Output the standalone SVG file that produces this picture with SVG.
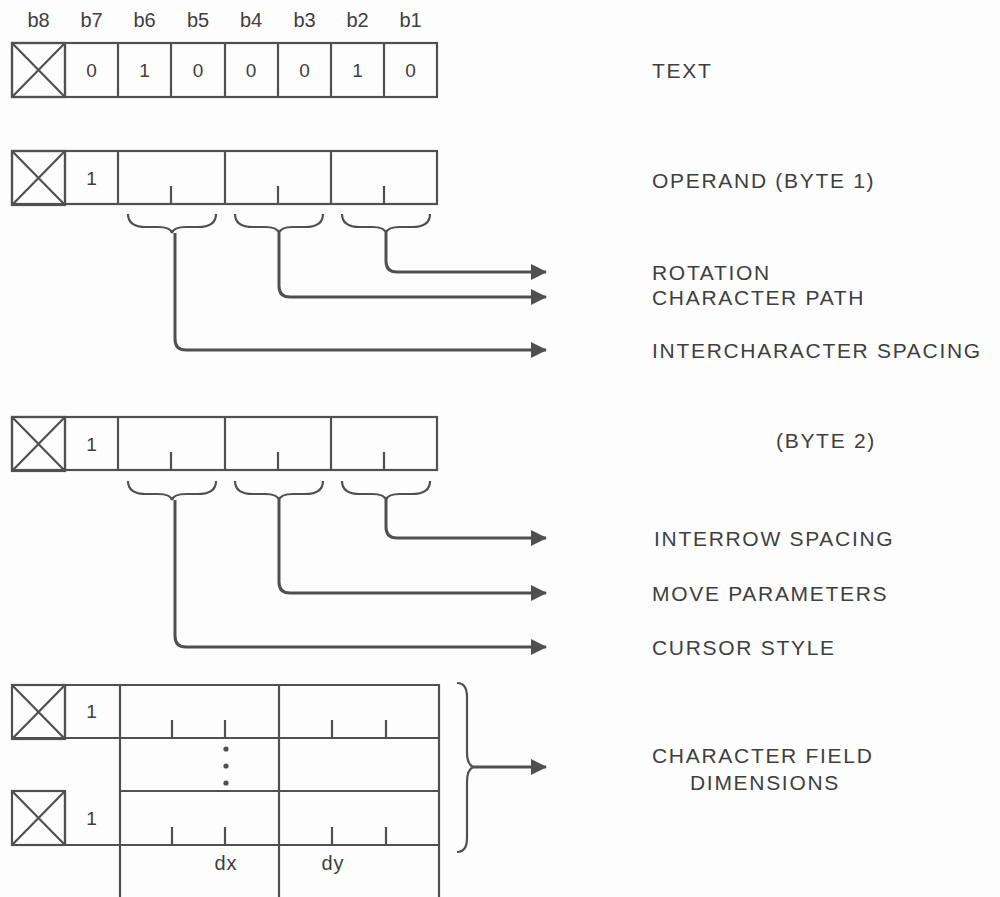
<svg xmlns="http://www.w3.org/2000/svg" width="1000" height="897" viewBox="0 0 1000 897">
<style>
.bx{fill:none;stroke:#505050;stroke-width:2.2}
.tk{stroke:#505050;stroke-width:2.2}
.br{fill:none;stroke:#505050;stroke-width:2.2}
.ar{fill:none;stroke:#505050;stroke-width:3}
.lb{font-family:"Liberation Sans",Arial,sans-serif;font-size:21px;letter-spacing:1.7px;fill:#3f3f3f}
.bt{font-family:"Liberation Sans",Arial,sans-serif;font-size:20px;fill:#3f3f3f;text-anchor:middle}
.dg{font-family:"Liberation Sans",Arial,sans-serif;font-size:19px;fill:#3f3f3f;text-anchor:middle}
</style>
<defs>
<marker id="ah" markerWidth="16" markerHeight="16" refX="15" refY="8" orient="auto" markerUnits="userSpaceOnUse">
<path d="M0,0 L16,8 L0,16 Z" fill="#505050"/>
</marker>
<g id="xb"><rect x="0" y="0" width="53" height="54" class="bx"/><path d="M0,0 L53,54 M53,0 L0,54" class="tk"/></g>
</defs>
<rect width="1000" height="897" fill="#fdfdfd"/>

<g id="bitlabels">
<text class="bt" x="38.5" y="27">b8</text>
<text class="bt" x="91.5" y="27">b7</text>
<text class="bt" x="144.5" y="27">b6</text>
<text class="bt" x="198" y="27">b5</text>
<text class="bt" x="251" y="27">b4</text>
<text class="bt" x="304.5" y="27">b3</text>
<text class="bt" x="357.5" y="27">b2</text>
<text class="bt" x="410.5" y="27">b1</text>
</g>

<g id="row-text">
<use href="#xb" x="12" y="43"/>
<rect x="12" y="43" width="425" height="54" class="bx"/>
<path d="M118,43 V97 M171,43 V97 M225,43 V97 M278,43 V97 M331,43 V97 M384,43 V97 M65,43 V97" class="tk"/>
<text class="dg" x="91.5" y="77">0</text>
<text class="dg" x="144.5" y="77">1</text>
<text class="dg" x="198" y="77">0</text>
<text class="dg" x="251" y="77">0</text>
<text class="dg" x="304.5" y="77">0</text>
<text class="dg" x="357.5" y="77">1</text>
<text class="dg" x="410.5" y="77">0</text>
</g>

<g id="row-byte1">
<use href="#xb" x="12" y="151"/>
<rect x="12" y="151" width="425" height="53" class="bx"/>
<path d="M65,151 V204 M118,151 V204 M225,151 V204 M331,151 V204 M171,186 V204 M278,186 V204 M384,186 V204" class="tk"/>
<text class="dg" x="91.5" y="185">1</text>
</g>

<g id="row-byte2">
<use href="#xb" x="12" y="417"/>
<rect x="12" y="417" width="425" height="53" class="bx"/>
<path d="M65,417 V470 M118,417 V470 M225,417 V470 M331,417 V470 M171,452 V470 M278,452 V470 M384,452 V470" class="tk"/>
<text class="dg" x="91.5" y="451">1</text>
</g>

<g id="row-dims">
<use href="#xb" x="12" y="685"/>
<use href="#xb" x="12" y="791"/>
<path d="M12,685 H439 V845 H12 M12,738 H439 M120,791 H439 M65,685 V738 M65,791 V845 M120,685 V897 M279,685 V897 M439,685 V897" class="bx"/>
<path d="M172,720 V738 M225,720 V738 M332,720 V738 M386,720 V738 M172,827 V845 M225,827 V845 M332,827 V845 M386,827 V845" class="tk"/>
<circle cx="226" cy="749" r="2.6" fill="#505050"/>
<circle cx="226" cy="766" r="2.6" fill="#505050"/>
<circle cx="226" cy="783" r="2.6" fill="#505050"/>
<text class="dg" x="91.5" y="718">1</text>
<text class="dg" x="91.5" y="825">1</text>
<text class="bt" x="226" y="870" style="letter-spacing:1px">dx</text>
<text class="bt" x="333" y="870" style="letter-spacing:1px">dy</text>
</g>

<g id="connectors">
<path class="br" d="M128,214 C128,223 134,227 146,227 L158,227 C166,227 171,229 172,233 C173,229 178,227 186,227 L198,227 C210,227 216,223 216,214"/>
<path class="br" d="M235,214 C235,223 241,227 253,227 L265,227 C273,227 278,229 279,233 C280,229 285,227 293,227 L305,227 C317,227 323,223 323,214"/>
<path class="br" d="M342,214 C342,223 348,227 360,227 L372,227 C380,227 385,229 386,233 C387,229 392,227 400,227 L412,227 C424,227 430,223 430,214"/>
<path class="br" d="M128,481 C128,490 134,494 146,494 L158,494 C166,494 171,496 172,500 C173,496 178,494 186,494 L198,494 C210,494 216,490 216,481"/>
<path class="br" d="M235,481 C235,490 241,494 253,494 L265,494 C273,494 278,496 279,500 C280,496 285,494 293,494 L305,494 C317,494 323,490 323,481"/>
<path class="br" d="M342,481 C342,490 348,494 360,494 L372,494 C380,494 385,496 386,500 C387,496 392,494 400,494 L412,494 C424,494 430,490 430,481"/>
<path class="ar" marker-end="url(#ah)" d="M386,233 V261 Q386,272 397,272 H546"/>
<path class="ar" marker-end="url(#ah)" d="M279,233 V286 Q279,297 290,297 H546"/>
<path class="ar" marker-end="url(#ah)" d="M175,233 V339 Q175,350 186,350 H546"/>
<path class="ar" marker-end="url(#ah)" d="M386,500 V527 Q386,538 397,538 H546"/>
<path class="ar" marker-end="url(#ah)" d="M279,500 V582 Q279,593 290,593 H546"/>
<path class="ar" marker-end="url(#ah)" d="M175,500 V636 Q175,647 186,647 H546"/>
<path class="br" d="M457,683 C464,683 467,688 467,697 L467,752 C467,761 469,765 473,767 C469,769 467,773 467,782 L467,838 C467,847 464,852 457,852"/>
<path class="ar" marker-end="url(#ah)" d="M473,767 H546"/>
</g>

<g id="labels">
<text class="lb" x="652" y="78">TEXT</text>
<text class="lb" x="652" y="188">OPERAND (BYTE 1)</text>
<text class="lb" x="652" y="280">ROTATION</text>
<text class="lb" x="652" y="305">CHARACTER PATH</text>
<text class="lb" x="652" y="358">INTERCHARACTER SPACING</text>
<text class="lb" x="776" y="448">(BYTE 2)</text>
<text class="lb" x="654" y="546">INTERROW SPACING</text>
<text class="lb" x="652" y="601">MOVE PARAMETERS</text>
<text class="lb" x="652" y="655">CURSOR STYLE</text>
<text class="lb" x="652" y="763">CHARACTER FIELD</text>
<text class="lb" x="690" y="790">DIMENSIONS</text>
</g>
</svg>
